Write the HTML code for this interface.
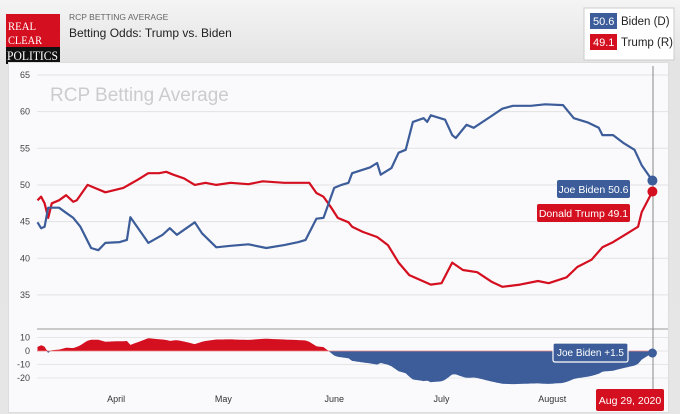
<!DOCTYPE html>
<html><head><meta charset="utf-8">
<style>
body{margin:0;width:680px;height:414px;overflow:hidden;background:linear-gradient(#f4f4f4,#e4e4e4 60px,#e6e6e6);font-family:"Liberation Sans",sans-serif}
svg{position:absolute;left:0;top:0}
</style></head><body>
<svg width="680" height="414">
<g id="root"></g>
</svg>
<script>
const bidenDays=[0,1,2,3,6,8,10,12,15,17,19,23,25,26,30,31,35,37,39,44,46,50,54,59,64,69,73,75,78,80,83,85,87,88,93,95,96,99,101,103,105,108,109,110,114,116,117,120,122,127,130,133,138,142,147,150,154,157,158,161,164,167,169,172];
const bidenVals=[44.9,44.1,44.3,46.9,46.9,46.2,45.5,44.3,41.4,41.1,42.1,42.2,42.5,45.6,42.8,42.1,43.2,44.1,43.2,44.9,43.4,41.5,41.7,41.9,41.4,41.8,42.2,42.5,45.4,45.5,49.6,50.0,50.3,51.6,52.4,53.0,51.4,52.3,54.4,54.8,58.6,59.1,58.6,59.5,58.9,56.8,56.4,58.2,57.8,59.4,60.4,60.8,60.8,61.0,60.9,59.1,58.5,57.8,56.8,56.8,55.7,54.8,52.7,50.6];
const trumpDays=[0,1,2,3,4,6,8,10,11,14,16,19,24,28,31,34,36,38,41,44,47,50,54,59,63,69,76,78,80,82,84,87,88,91,95,98,101,104,110,113,116,119,123,127,130,135,140,143,148,151,155,158,161,165,168,169,172];
const trumpVals=[47.9,48.4,47.5,45.5,47.5,47.9,48.6,47.7,47.9,50.0,49.6,49.0,49.6,50.7,51.6,51.6,51.8,51.4,50.9,50.0,50.3,50.0,50.3,50.1,50.5,50.3,50.3,48.9,48.4,47.0,45.5,44.9,44.3,43.6,42.9,41.8,39.4,37.7,36.4,36.6,39.4,38.4,38.1,36.8,36.1,36.4,36.9,36.6,37.4,38.8,39.8,41.5,42.2,43.4,44.3,46.3,49.1];
const yTicks=[65,60,55,50,45,40,35];
const spreadTicks=[10,0,-10,-20];
const monthLabels=["April","May","June","July","August"];
const monthDays=[22,52,83,113,144];

const NS="http://www.w3.org/2000/svg";
const root=document.getElementById('root');
function el(t,a,txt){const e=document.createElementNS(NS,t);for(const k in a)e.setAttribute(k,a[k]);if(txt!==undefined)e.textContent=txt;root.appendChild(e);return e;}
const X=d=>37.5+d*3.575;
const Y=v=>75+(65-v)*7.33;
const SY=v=>351-v*1.35;
function interp(ds,vs,d){if(d<=ds[0])return vs[0];for(let i=1;i<ds.length;i++){if(d<=ds[i]){const t=(d-ds[i-1])/(ds[i]-ds[i-1]);return vs[i-1]+t*(vs[i]-vs[i-1]);}}return vs[vs.length-1];}

// header
let e;
e=el('rect',{x:6,y:14,width:54,height:50,fill:'#d40f1f'});

el('rect',{x:6,y:47,width:54,height:17,fill:'#111'});
el('text',{x:8,y:30,fill:'#fff','font-family':'Liberation Serif','font-size':'12',textLength:28,lengthAdjust:'spacingAndGlyphs'},'REAL');
el('text',{x:8,y:44,fill:'#fff','font-family':'Liberation Serif','font-size':'12',textLength:34,lengthAdjust:'spacingAndGlyphs'},'CLEAR');
el('text',{x:7,y:60,fill:'#fff','font-family':'Liberation Serif','font-size':'13',textLength:51,lengthAdjust:'spacingAndGlyphs'},'POLITICS');
e=el('text',{x:69,y:20,fill:'#666','font-size':'8.5'},'RCP BETTING AVERAGE');

e=el('text',{x:69,y:37,fill:'#222','font-size':'12'},'Betting Odds: Trump vs. Biden');

e=el('rect',{x:584,y:8,width:90,height:52,fill:'#fff',stroke:'#ccc'});

el('rect',{x:590,y:13,width:27,height:16,fill:'#3c5d99'});
el('text',{x:593,y:25,fill:'#fff','font-size':'11'},bidenVals[bidenVals.length-1].toFixed(1));
e=el('text',{x:621,y:25,fill:'#222','font-size':'11.5'},'Biden (D)');

el('rect',{x:590,y:34,width:27,height:16,fill:'#d40f1f'});
el('text',{x:593,y:46,fill:'#fff','font-size':'11'},trumpVals[trumpVals.length-1].toFixed(1));
e=el('text',{x:621,y:46,fill:'#222','font-size':'11.5'},'Trump (R)');


// panel
e=el('rect',{x:8.5,y:62.5,width:660,height:350,fill:'#fafafd',stroke:'#ddd'});

e=el('text',{x:50,y:101,fill:'#ccc','font-size':'19'},'RCP Betting Average');

yTicks.forEach(v=>{
 el('line',{x1:37,x2:668,y1:Y(v),y2:Y(v),stroke:'#e2e2e2'});
 e=el('text',{x:30,y:Y(v)+3,fill:'#444','font-size':'9','text-anchor':'end'},v);
 
});
spreadTicks.forEach(v=>{
 el('line',{x1:37,x2:668,y1:SY(v),y2:SY(v),stroke:'#e6e6e6'});
 e=el('text',{x:30,y:SY(v)+3,fill:'#444','font-size':'9','text-anchor':'end'},v);
 
});
el('line',{x1:37,x2:668,y1:329,y2:329,stroke:'#999'});
monthLabels.forEach((m,i)=>{
 e=el('text',{x:X(monthDays[i]),y:402,fill:'#333','font-size':'9','text-anchor':'middle'},m);
 
});

// spread areas
const last=Math.max(bidenDays[bidenDays.length-1],trumpDays[trumpDays.length-1]);
let pos='M'+X(0)+' '+SY(0),neg='M'+X(0)+' '+SY(0);
for(let d=0;d<=last;d+=0.5){
 const s=interp(trumpDays,trumpVals,d)-interp(bidenDays,bidenVals,d);
 pos+=' L'+X(d).toFixed(1)+' '+SY(Math.max(s,0)).toFixed(1);
 neg+=' L'+X(d).toFixed(1)+' '+SY(Math.min(s,0)).toFixed(1);
}
pos+=' L'+X(last)+' '+SY(0)+'Z';neg+=' L'+X(last)+' '+SY(0)+'Z';
e=el('path',{d:pos,fill:'#d40f1f'});

e=el('path',{d:neg,fill:'#3c5d99'});

el('line',{x1:37,x2:X(last),y1:SY(0),y2:SY(0),stroke:'#e88',"stroke-width":0.7});

// lines
function line(ds,vs,c,name){
 const d=ds.map((x,i)=>(i?'L':'M')+X(x).toFixed(1)+' '+Y(vs[i]).toFixed(1)).join(' ');
 const p=el('path',{d:d,fill:'none',stroke:c,'stroke-width':2.2,'stroke-linejoin':'round'});
 
}
line(trumpDays,trumpVals,'#d40f1f','trump-line');
line(bidenDays,bidenVals,'#3c5d99','biden-line');

// crosshair
e=el('line',{x1:653,x2:653,y1:66,y2:392,stroke:'#888','stroke-width':1});

const bl=bidenVals[bidenVals.length-1],tl=trumpVals[trumpVals.length-1];
e=el('circle',{cx:X(last),cy:Y(bl),r:5,fill:'#3c5d99'});

e=el('circle',{cx:X(last),cy:Y(tl),r:5,fill:'#d40f1f'});

const sp=bl-tl;
e=el('circle',{cx:X(last),cy:SY(-sp),r:4.5,fill:'#3c5d99'});


// tooltips
e=el('rect',{x:557,y:180,width:73,height:18,rx:2,fill:'#3c5d99'});

el('text',{x:593.5,y:193,fill:'#fff','font-size':'10.5','text-anchor':'middle'},'Joe Biden '+bl.toFixed(1));
e=el('rect',{x:537,y:204,width:93,height:18,rx:2,fill:'#d40f1f'});

el('text',{x:583.5,y:217,fill:'#fff','font-size':'10.5','text-anchor':'middle'},'Donald Trump '+tl.toFixed(1));
e=el('rect',{x:553,y:343,width:75,height:19,rx:2,fill:'#3c5d99',stroke:'#fff','stroke-width':1.2});

el('text',{x:590.5,y:356,fill:'#fff','font-size':'10','text-anchor':'middle'},'Joe Biden +'+sp.toFixed(1));
e=el('rect',{x:596,y:389,width:68,height:22,rx:2,fill:'#d40f1f'});

el('text',{x:630,y:404,fill:'#fff','font-size':'10.5','text-anchor':'middle'},'Aug 29, 2020');
</script>
</body></html>
